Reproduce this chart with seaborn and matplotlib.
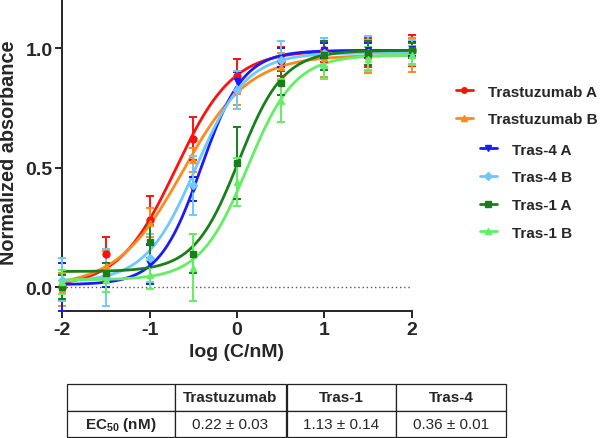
import matplotlib
matplotlib.use("Agg")
import matplotlib.pyplot as plt
from matplotlib.lines import Line2D
import seaborn as sns
import pandas as pd
import numpy as np

# log concentration of each measurement
log_conc = [-2, -1.5, -1, -0.5, 0, 0.5, 1, 1.5, 2]

series_names = ["Trastuzumab A", "Trastuzumab B", "Tras-4 A", "Tras-4 B", "Tras-1 A", "Tras-1 B"]

tras_a_y = [0.00, 0.14, 0.28, 0.62, 0.885, 0.945, 0.99, 0.98, 0.99]
tras_a_err = [0.06, 0.07, 0.10, 0.09, 0.07, 0.06, 0.05, 0.06, 0.065]
tras_b_y = [-0.01, 0.09, 0.27, 0.53, 0.82, 0.92, 0.96, 0.965, 0.97]
tras_b_err = [0.07, 0.06, 0.06, 0.05, 0.06, 0.06, 0.08, 0.07, 0.07]
t4a_y = [0.00, 0.05, 0.095, 0.41, 0.86, 0.96, 0.99, 0.99, 0.995]
t4a_err = [0.10, 0.05, 0.08, 0.05, 0.04, 0.04, 0.03, 0.03, 0.03]
t4b_y = [0.03, 0.04, 0.12, 0.425, 0.825, 0.95, 0.98, 0.98, 0.985]
t4b_err = [0.09, 0.12, 0.10, 0.125, 0.08, 0.08, 0.06, 0.07, 0.05]
t1a_y = [0.00, 0.06, 0.19, 0.14, 0.52, 0.855, 0.97, 0.98, 0.99]
t1a_err = [0.05, 0.04, 0.07, 0.08, 0.15, 0.05, 0.06, 0.05, 0.03]
t1b_y = [0.02, 0.03, 0.05, 0.08, 0.44, 0.78, 0.93, 0.955, 0.97]
t1b_err = [0.05, 0.05, 0.06, 0.14, 0.10, 0.09, 0.06, 0.05, 0.04]

# 4PL fit parameters: bottom, top, logEC50, hill
fit_bottom = [0.00, 0.00, 0.01, 0.02, 0.065, 0.03]
fit_top = [0.99, 0.97, 0.99, 0.98, 0.99, 0.97]
fit_logec50 = [-0.70, -0.62, -0.41, -0.47, 0.02, 0.12]
fit_hill = [1.33, 1.15, 1.8, 1.5, 1.7, 1.6]

# EC50 table
table_cols = ["", "Trastuzumab", "Tras-1", "Tras-4"]
table_row = ["EC$_{\\mathbf{50}}$ (nM)", "0.22 ± 0.03", "1.13 ± 0.14", "0.36 ± 0.01"]

colors = ["#ff1010", "#ff8a1c", "#1a1aff", "#6cc8ff", "#17801a", "#63ef63"]
markers = ["o", "^", "v", "D", "s", "^"]

sns.set_style("ticks")
plt.rcParams.update({
    "font.family": ["Liberation Sans", "DejaVu Sans"],
    "font.weight": "bold",
    "mathtext.fontset": "custom",
    "mathtext.bf": "Liberation Sans:bold",
    "mathtext.rm": "Liberation Sans",
    "axes.linewidth": 1.4,
    "axes.unicode_minus": False,
})

all_y = [tras_a_y, tras_b_y, t4a_y, t4b_y, t1a_y, t1b_y]
all_err = [tras_a_err, tras_b_err, t4a_err, t4b_err, t1a_err, t1b_err]

fig = plt.figure(figsize=(6, 4.39), dpi=100)
ax = fig.add_axes([0.1038, 0.2893, 0.5823, 0.7107])

ax.axhline(0, color="#555555", linestyle=(0, (1, 2)), linewidth=1, zorder=1)

xs = np.linspace(-2, 2, 200)
curves = []
for i, name in enumerate(series_names):
    yc = fit_bottom[i] + (fit_top[i] - fit_bottom[i]) / (1 + 10 ** ((fit_logec50[i] - xs) * fit_hill[i]))
    curves.append(pd.DataFrame({"x": xs, "y": yc, "series": name}))
curve_df = pd.concat(curves)

sns.lineplot(data=curve_df, x="x", y="y", hue="series", palette=colors,
             linewidth=2, legend=False, ax=ax, zorder=3)

for i, name in enumerate(series_names):
    ax.errorbar(log_conc, all_y[i], yerr=all_err[i], fmt="none", ecolor=colors[i],
                elinewidth=1.4, capsize=3, capthick=1.4, zorder=4, clip_on=False)
    ax.plot(log_conc, all_y[i], linestyle="none", marker=markers[i], color=colors[i],
            markersize=5 if markers[i] != "D" else 4, zorder=5, clip_on=False)

ax.set_xlim(-2, 2)
ax.set_ylim(-0.1, 1.205)
ax.set_xticks([-2, -1, 0, 1, 2])
ax.set_yticks([0.0, 0.5, 1.0])
ax.set_yticklabels(["0.0", "0.5", "1.0"])
ax.tick_params(length=5, width=1.4, labelsize=14, pad=2)
for lab in ax.get_xticklabels() + ax.get_yticklabels():
    lab.set_fontweight("bold")
sns.despine(ax=ax)

ax.set_xlabel("log (C/nM)", fontsize=14, fontweight="bold", labelpad=4)
ax.set_ylabel("Normalized absorbance", fontsize=14.3, fontweight="bold")
ax.yaxis.set_label_coords(-0.128, 0.51)

# legend in two groups like the original
handles = [Line2D([0], [0], color=colors[i], marker=markers[i], markersize=4, linewidth=2)
           for i in range(6)]
leg_kw = dict(loc="upper left", frameon=False, fontsize=11, handlelength=1.1,
              handletextpad=1.0, labelspacing=0.9, borderaxespad=0, borderpad=0)
leg1 = fig.legend(handles[:2], series_names[:2], bbox_to_anchor=(0.760, 0.805), **leg_kw)
leg2 = fig.legend(handles[2:], series_names[2:], bbox_to_anchor=(0.80, 0.673), **leg_kw)

# EC50 table
tax = fig.add_axes([0.111, 0.002, 0.733, 0.121])
tax.axis("off")
tbl = tax.table(cellText=[table_row], colLabels=table_cols, bbox=[0, 0, 1, 1],
                colWidths=[108, 112, 110, 110], cellLoc="center")
tbl.auto_set_font_size(False)
for (r, c), cell in tbl.get_celld().items():
    cell.set_linewidth(0.9)
    cell.set_edgecolor("#222222")
    txt = cell.get_text()
    txt.set_fontsize(11)
    if r == 0 or c == 0:
        txt.set_fontweight("bold")
    else:
        txt.set_fontweight("normal")

fig.savefig("out.png", dpi=100)
